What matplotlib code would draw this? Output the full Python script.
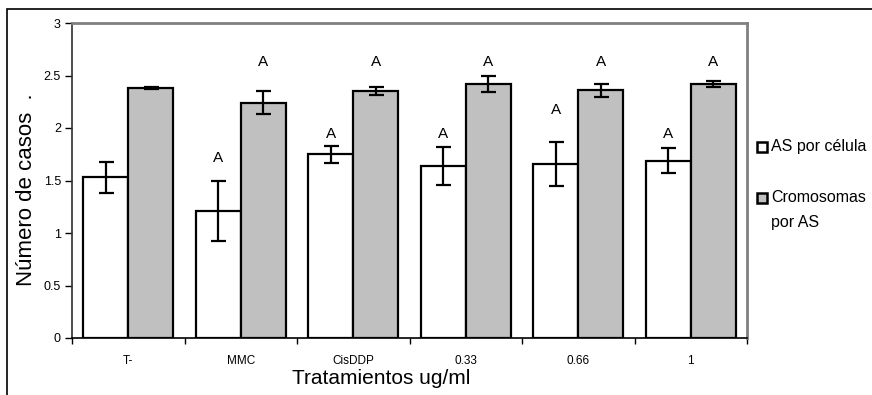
import numpy as np
import matplotlib.pyplot as plt
from matplotlib.patches import Rectangle

plt.rcParams['font.family'] = ['Liberation Sans', 'DejaVu Sans']

categories = ["T-", "MMC", "CisDDP", "0.33", "0.66", "1"]
as_celula = [1.53, 1.21, 1.75, 1.64, 1.66, 1.69]
as_celula_err = [0.15, 0.29, 0.08, 0.18, 0.21, 0.12]
cromosomas = [2.38, 2.24, 2.35, 2.42, 2.36, 2.42]
cromosomas_err = [0.01, 0.11, 0.04, 0.08, 0.06, 0.03]
# letras de significancia y su altura
letras_celula = ["", "A", "A", "A", "A", "A"]
alto_celula = [0, 1.71, 1.94, 1.94, 2.17, 1.94]
letras_crom = ["", "A", "A", "A", "A", "A"]
alto_crom = [0, 2.63, 2.63, 2.63, 2.63, 2.63]
series_names = ["AS por célula", "Cromosomas"]
series_colors = ["white", "#c0c0c0"]

W, H = 872, 395
fig = plt.figure(figsize=(W / 100, H / 100), dpi=100)
fig.patches.append(Rectangle((7 / W, -0.05), 1.0, 1.05 - 9 / H, transform=fig.transFigure,
                             fill=False, edgecolor='black', linewidth=1.2))

ax = fig.add_axes([72 / W, 57 / H, 675 / W, 315 / H])
x = np.arange(len(categories))
w = 0.4
err_kw = dict(ecolor='black', elinewidth=1.6, capsize=5.4, capthick=1.6)
ax.bar(x - w / 2, as_celula, w, yerr=as_celula_err, color=series_colors[0], edgecolor='black',
       linewidth=1.6, error_kw=err_kw)
ax.bar(x + w / 2, cromosomas, w, yerr=cromosomas_err, color=series_colors[1], edgecolor='black',
       linewidth=1.6, error_kw=err_kw)

for i in range(len(categories)):
    ax.text(x[i] - w / 2, alto_celula[i], letras_celula[i], ha='center', va='center', fontsize=11)
    ax.text(x[i] + w / 2, alto_crom[i], letras_crom[i], ha='center', va='center', fontsize=11)

ax.set_xlim(-0.5, len(categories) - 0.5)
ax.set_ylim(0, 3)
ax.set_yticks([0, 0.5, 1, 1.5, 2, 2.5, 3])
ax.set_yticklabels(["0", "0.5", "1", "1.5", "2", "2.5", "3"], fontsize=9)
ax.set_xticks(x)
ax.set_xticklabels(categories, fontsize=8.5)
ax.set_xticks(np.arange(len(categories) + 1) - 0.5, minor=True)
ax.tick_params(axis='x', which='major', length=0, pad=12)
ax.tick_params(axis='x', which='minor', length=4, width=1, direction='out')
ax.tick_params(axis='y', length=5, width=1, direction='out', pad=3)

for s in ['top', 'right']:
    ax.spines[s].set_color('#808080')
    ax.spines[s].set_linewidth(2)
ax.spines['left'].set_color('#303030')
ax.spines['left'].set_linewidth(1.2)
ax.spines['bottom'].set_color('black')
ax.spines['bottom'].set_linewidth(1.2)

fig.text(26 / W, 1 - 190 / H, "Número de casos  .", rotation=90, ha='center', va='center', fontsize=16)
fig.text(381 / W, 1 - 378 / H, "Tratamientos ug/ml", ha='center', va='center', fontsize=15)

# leyenda dibujada a mano, como en la figura original
leg_y = [147, 198]
for k in range(2):
    fig.patches.append(Rectangle((757 / W, 1 - (leg_y[k] + 5) / H), 10 / W, 10 / H,
                                 transform=fig.transFigure, facecolor=series_colors[k],
                                 edgecolor='black', linewidth=1.8))
    fig.text(771 / W, 1 - leg_y[k] / H, series_names[k], ha='left', va='center', fontsize=11.5)
fig.text(771 / W, 1 - 223 / H, "por AS", ha='left', va='center', fontsize=11.5)

fig.savefig("out.png", dpi=100)
